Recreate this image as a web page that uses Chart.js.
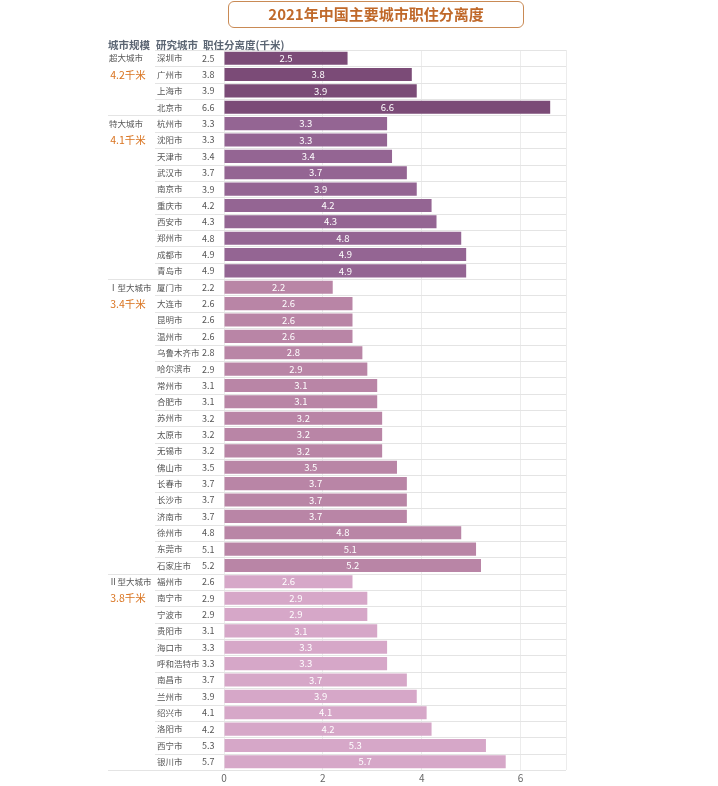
<!DOCTYPE html>
<html>
<head>
<meta charset="utf-8">
<script src="https://cdn.jsdelivr.net/npm/chart.js@4"></script>
<style>
html,body{margin:0;padding:0;background:#fff;}
#wrap{position:relative;width:718px;height:786px;}
#title{position:absolute;left:228px;top:1px;width:296px;height:27px;border:1.5px solid #c98a55;border-radius:6px;box-sizing:border-box;
text-align:center;font:bold 15px "Noto Sans CJK SC",sans-serif;color:#c0692a;line-height:24px;}
canvas{position:absolute;left:0;top:0;}
</style>
</head>
<body>
<div id="wrap">
<canvas id="c" width="718" height="786"></canvas>
<div id="title">2021年中国主要城市职住分离度</div>
</div>
<script>
const cities = ['深圳市','广州市','上海市','北京市',
 '杭州市','沈阳市','天津市','武汉市','南京市','重庆市','西安市','郑州市','成都市','青岛市',
 '厦门市','大连市','昆明市','温州市','乌鲁木齐市','哈尔滨市','常州市','合肥市','苏州市','太原市','无锡市','佛山市','长春市','长沙市','济南市','徐州市','东莞市','石家庄市',
 '福州市','南宁市','宁波市','贵阳市','海口市','呼和浩特市','南昌市','兰州市','绍兴市','洛阳市','西宁市','银川市'];
const values = [2.5,3.8,3.9,6.6,
 3.3,3.3,3.4,3.7,3.9,4.2,4.3,4.8,4.9,4.9,
 2.2,2.6,2.6,2.6,2.8,2.9,3.1,3.1,3.2,3.2,3.2,3.5,3.7,3.7,3.7,4.8,5.1,5.2,
 2.6,2.9,2.9,3.1,3.3,3.3,3.7,3.9,4.1,4.2,5.3,5.7];
const groupNames = ['超大城市','特大城市','Ⅰ型大城市','Ⅱ型大城市'];
const groupAvg = ['4.2千米','4.1千米','3.4千米','3.8千米'];
const groupSizes = [4,10,18,12];
const groupColors = ['#7b4b77','#946593','#b985a6','#d6a7c8'];
const xTicks = [0,2,4,6];

const barColors = [];
groupSizes.forEach((n,g)=>{for(let i=0;i<n;i++)barColors.push(groupColors[g]);});
const groupStart = [];
{let s=0;groupSizes.forEach(n=>{groupStart.push(s);s+=n;});}

const FONT = '"Noto Sans CJK SC","Noto Sans",sans-serif';

const tablePlugin = {
  id:'table',
  beforeDatasetsDraw(chart){
    const ctx = chart.ctx, y = chart.scales.y, area = chart.chartArea;
    ctx.save();
    ctx.strokeStyle = '#e4e4e4';
    ctx.lineWidth = 1;
    const n = cities.length;
    for(let i=0;i<=n;i++){
      let yy;
      if(i===0) yy = area.top;
      else if(i===n) yy = area.bottom;
      else yy = (y.getPixelForValue(i-1)+y.getPixelForValue(i))/2;
      const isGroup = groupStart.includes(i) || i===n;
      const x0 = (isGroup && i!==0) ? 108 : 155;
      ctx.beginPath();
      ctx.moveTo(x0, Math.round(yy)+0.5);
      ctx.lineTo(area.right, Math.round(yy)+0.5);
      ctx.stroke();
    }
    ctx.restore();
  },
  afterDatasetsDraw(chart){
    const ctx = chart.ctx, y = chart.scales.y;
    const meta = chart.getDatasetMeta(0);
    ctx.save();
    ctx.textBaseline = 'middle';
    // data labels
    ctx.fillStyle = '#ffffff';
    ctx.font = '9.5px ' + FONT;
    ctx.textAlign = 'center';
    meta.data.forEach((bar,i)=>{
      ctx.fillText(values[i].toFixed(1), (bar.x+bar.base)/2, bar.y);
    });
    // header
    ctx.textAlign = 'left';
    ctx.fillStyle = '#5b6573';
    ctx.font = 'bold 10.5px ' + FONT;
    ctx.fillText('城市规模', 108, 45);
    ctx.fillText('研究城市', 156, 45);
    ctx.fillText('职住分离度(千米)', 203, 45);
    // city names and values
    ctx.fillStyle = '#555';
    cities.forEach((c,i)=>{
      const yy = y.getPixelForValue(i);
      ctx.font = '8.5px ' + FONT;
      ctx.fillText(c, 157, yy);
      ctx.font = '9px ' + FONT;
      ctx.fillText(values[i].toFixed(1), 202, yy);
    });
    // group labels
    groupNames.forEach((g,k)=>{
      const s = groupStart[k];
      ctx.font = '8.5px ' + FONT;
      ctx.fillStyle = '#555';
      ctx.textAlign = 'left';
      ctx.fillText(g, 109, y.getPixelForValue(s));
      ctx.font = '10.5px ' + FONT;
      ctx.fillStyle = '#d9731f';
      ctx.textAlign = 'center';
      ctx.fillText(groupAvg[k], 128, y.getPixelForValue(s+1));
    });
    ctx.restore();
  }
};

new Chart(document.getElementById('c'), {
  type:'bar',
  data:{
    labels: cities,
    datasets:[{data: values, backgroundColor: barColors, borderWidth:0,
      barPercentage:0.8, categoryPercentage:1}]
  },
  options:{
    indexAxis:'y',
    responsive:false,
    animation:false,
    layout:{padding:{left:224,right:152,top:50,bottom:0}},
    plugins:{legend:{display:false},tooltip:{enabled:false}},
    scales:{
      y:{type:'category',display:false},
      x:{min:0,max:6.92,
        afterBuildTicks(scale){
          const t = xTicks.map(v=>({value:v}));
          t.push({value:6.92});
          scale.ticks = t;
        },
        ticks:{stepSize:2,color:'#666',font:{size:10,family:FONT},padding:2,
          callback:(v)=> xTicks.includes(v) ? String(v) : ''},
        grid:{color:'#ececec',drawTicks:false},
        border:{display:false}
      }
    }
  },
  plugins:[tablePlugin]
});
</script>
</body>
</html>
